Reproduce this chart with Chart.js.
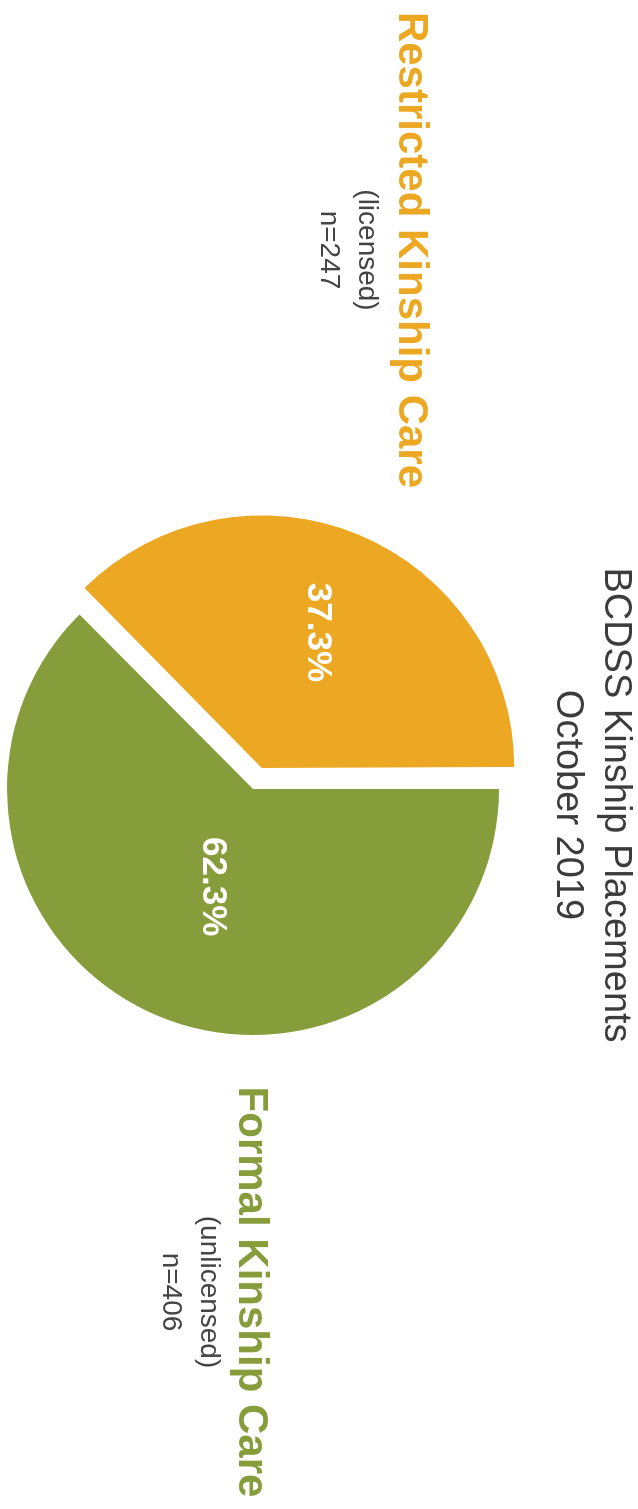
<!DOCTYPE html>
<html>
<head>
<meta charset="utf-8">
<title>BCDSS Kinship Placements</title>
<script src="https://cdn.jsdelivr.net/npm/chart.js@4"></script>
<style>
  html, body { margin: 0; padding: 0; background: #fff; overflow: hidden; }
  body { width: 638px; height: 1509px; position: relative; }
  /* the scanned page lies on its side: draw it upright, then turn it */
  #page {
    position: absolute; left: 0; top: 0;
    width: 1509px; height: 638px;
    transform-origin: 0 0;
    transform: translateX(638px) rotate(90deg);
    font-family: "Liberation Sans", Arial, sans-serif;
  }
  #page canvas { position: absolute; left: 0; top: 0; }
  .txt { position: absolute; white-space: nowrap; line-height: 1; transform: translateX(-50%); }
</style>
</head>
<body>
<div id="page">
  <canvas id="pie" width="1509" height="638"></canvas>
</div>
<script>
'use strict';
const titleLines = ['BCDSS Kinship Placements', 'October 2019'];
const categories = ['Formal Kinship Care', 'Restricted Kinship Care'];
const licenseNotes = ['(unlicensed)', '(licensed)'];
const counts = [406, 247];
const shares = [62.3, 37.3];
const sliceColors = ['#879C3B', '#EDA823'];
const sliceOffsets = [0, 91];

const page = document.getElementById('page');

function addText(text, x, baseline, size, weight, color) {
  let el = document.createElement('div');
  el.className = 'txt';
  el.textContent = text;
  el.style.left = x + 'px';
  el.style.top = (baseline - 0.8465 * size) + 'px';
  el.style.fontSize = size + 'px';
  el.style.fontWeight = weight;
  el.style.color = color;
  page.appendChild(el);
}

// title
addText(titleLines[0], 805, 33, 38, 'normal', '#3c3c3c');
addText(titleLines[1], 805, 81, 38, 'normal', '#3c3c3c');

// category labels, placed beside the pie
const labelCentres = [1292, 250];
const labelBaselines = [[400, 438, 476], [240, 280, 318]];
for (let i = 0; i < categories.length; i++) {
  addText(categories[i], labelCentres[i], labelBaselines[i][0], 42, 'bold', sliceColors[i]);
  addText(licenseNotes[i], labelCentres[i], labelBaselines[i][1], 28, 'normal', '#444');
  addText(`n=${counts[i]}`, labelCentres[i], labelBaselines[i][2], 28, 'normal', '#444');
}

// percentages written inside each slice (distance from the tip, as part of the radius)
const labelRadius = [0.43, 0.57];
const sliceLabels = {
  id: 'sliceLabels',
  afterDatasetsDraw(chart) {
    const ctx = chart.ctx;
    const meta = chart.getDatasetMeta(0);
    ctx.save();
    ctx.font = 'bold 35px "Liberation Sans", Arial, sans-serif';
    ctx.fillStyle = '#fff';
    ctx.textAlign = 'center';
    ctx.textBaseline = 'middle';
    meta.data.forEach((arc, i) => {
      const p = arc.getProps(['x', 'y', 'startAngle', 'endAngle', 'outerRadius', 'circumference']);
      const mid = (p.startAngle + p.endAngle) / 2;
      const off = (arc.options.offset || 0) / 4;
      const fix = 1 - Math.sin(Math.min(Math.PI, p.circumference));
      const d = off * (1 + fix) + p.outerRadius * labelRadius[i];
      ctx.fillText(shares[i].toFixed(1) + '%', p.x + Math.cos(mid) * d, p.y + Math.sin(mid) * d);
    });
    ctx.restore();
  }
};

let ctx = document.getElementById('pie').getContext('2d');
let chart = new Chart(ctx, {
  type: 'pie',
  data: {
    labels: categories,
    datasets: [{
      data: shares,
      backgroundColor: sliceColors,
      borderWidth: 0,
      offset: sliceOffsets
    }]
  },
  options: {
    responsive: false,
    animation: false,
    radius: 246,
    layout: { padding: { left: 69, right: 0, top: 132, bottom: 0 } },
    plugins: {
      legend: { display: false },
      tooltip: { enabled: false },
      title: { display: false }
    }
  },
  plugins: [sliceLabels]
});
</script>
</body>
</html>
